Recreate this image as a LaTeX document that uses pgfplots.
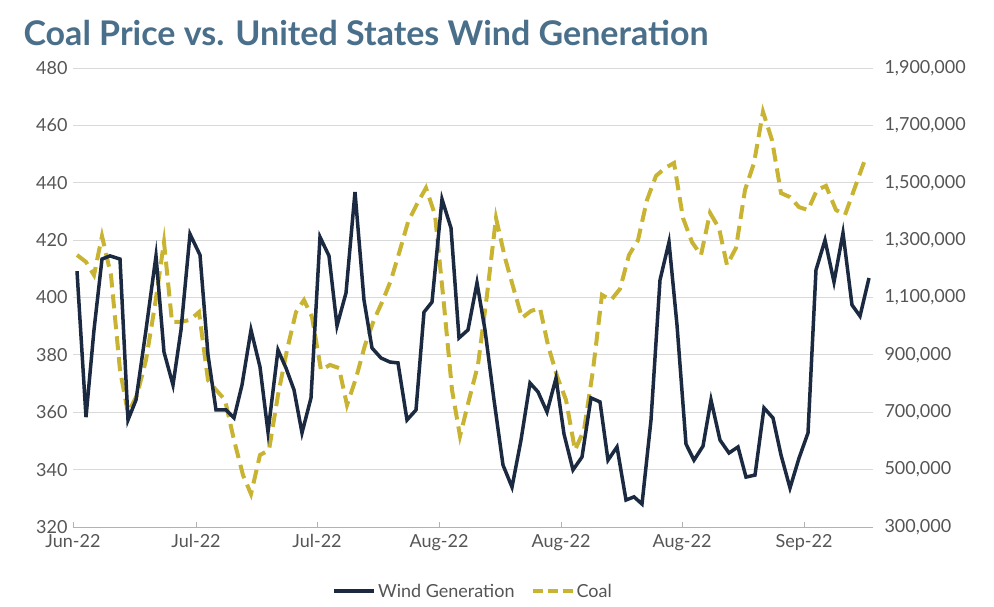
\documentclass[border=0pt]{standalone}
\usepackage{pgfplots}
\pgfplotsset{compat=1.18}
\usepackage{fontspec}
\setmainfont{Lato}
\definecolor{navy}{HTML}{1B2A41}
\definecolor{gold}{HTML}{C8B432}
\definecolor{tgray}{HTML}{555555}
\definecolor{ttl}{HTML}{4A6F8A}
\begin{document}
\begin{tikzpicture}
\path[use as bounding box] (-73pt,-80pt) rectangle (921pt,527pt);
\pgfplotsset{every axis/.style={scale only axis, width=800pt, height=459pt,
  xmin=73, xmax=873, xtick={73,196,317,439,561,682,804},
  tick label style={font=\fontsize{18}{18}\selectfont, text=tgray},
  /pgf/number format/assume math mode=true, major tick length=0pt}}
\begin{axis}[at={(0,0)}, anchor=south west,
  ymin=320, ymax=480, ytick={320,340,...,480},
  xticklabels={Jun-22,Jul-22,Jul-22,Aug-22,Aug-22,Aug-22,Sep-22},
  ymajorgrids, grid style={gray!30, line width=0.8pt},
  axis line style={draw=none}, axis x line*=bottom, x axis line style={draw=gray!60, line width=0.8pt},
  xtick style={draw=gray!60}, major tick length=5pt, ytick style={draw=none},
  xticklabel style={yshift=-4pt}, yticklabel style={xshift=-2pt}]
\addplot[draw=gold, line width=4pt, dash pattern=on 14pt off 7pt] coordinates {
(77,414.8)(86,412.4)(94,407.8)(102,421.4)(111,407.8)(120,374.7)(128,359.7)(137,366.0)(146,378.2)(155,397.4)(164,419.3)(172,391.5)(181,391.5)(190,392.2)(199,394.9)(208,371.2)(216,367.8)(225,364.3)(234,350.3)(243,338.1)(251,331.5)(260,345.1)(269,346.8)(278,366.0)(287,381.7)(296,394.9)(304,399.1)(312,393.2)(321,374.7)(330,376.5)(339,375.4)(347,362.5)(356,371.9)(365,383.4)(374,392.2)(383,399.1)(391,406.1)(400,416.6)(408,426.3)(417,432.6)(426,438.2)(435,428.8)(444,397.4)(452,367.8)(460,351.7)(469,364.3)(478,376.5)(487,400.9)(496,427.7)(505,413.8)(514,402.6)(522,392.9)(531,395.3)(540,396.3)(548,383.4)(557,372.6)(566,364.3)(575,346.8)(584,353.8)(593,374.7)(602,400.9)(611,399.1)(620,403.0)(629,414.8)(638,420.0)(647,434.0)(656,442.4)(665,445.1)(674,446.9)(683,427.7)(692,419.3)(701,414.8)(710,429.5)(719,424.2)(727,411.3)(736,417.3)(745,437.5)(754,446.9)(763,464.7)(772,454.9)(781,436.4)(790,435.0)(799,431.5)(808,430.5)(817,437.5)(826,438.9)(836,430.5)(845,428.8)(854,437.5)(866,449.0)};
\end{axis}
\begin{axis}[at={(0,0)}, anchor=south west, axis y line*=right, axis x line=none,
  ymin=300000, ymax=1900000, ytick={300000,500000,...,1900000},
  scaled y ticks=false, yticklabel style={/pgf/number format/fixed, /pgf/number format/1000 sep={,}, xshift=8pt},
  y axis line style={draw=none},
  legend style={at={(0.5,-0.115)}, anchor=north, draw=none, legend columns=2, font=\fontsize{18}{18}\selectfont, text=tgray, /tikz/every even column/.append style={column sep=14pt}},
  legend image code/.code={\draw[#1] (0pt,0pt) -- (40pt,0pt);}]
\addlegendimage{navy, line width=4pt}\addlegendentry{Wind Generation}
\addlegendimage{draw=gold, line width=4pt, dash pattern=on 10pt off 5pt}\addlegendentry{Coal}
\addplot[navy, line width=3.5pt] coordinates {
(77,1192000)(86,683000)(94,987000)(102,1234000)(110,1245000)(120,1234000)(128,673000)(136,743000)(146,987000)(156,1245000)(164,910000)(173,795000)(181,987000)(190,1321000)(200,1248000)(208,900000)(216,708000)(226,708000)(234,680000)(242,795000)(251,987000)(260,858000)(268,631000)(278,917000)(286,854000)(294,778000)(302,628000)(311,750000)(320,1311000)(329,1245000)(337,1001000)(346,1116000)(355,1468000)(364,1091000)(372,924000)(381,889000)(390,875000)(398,872000)(407,673000)(416,708000)(424,1049000)(432,1084000)(442,1443000)(451,1342000)(459,959000)(468,987000)(477,1151000)(485,987000)(494,743000)(503,516000)(512,439000)(521,603000)(530,802000)(538,771000)(547,701000)(556,819000)(564,624000)(573,499000)(582,544000)(591,750000)(600,736000)(608,533000)(617,579000)(626,394000)(634,405000)(642,380000)(651,673000)(660,1161000)(669,1293000)(677,1004000)(686,589000)(694,533000)(703,582000)(711,743000)(720,603000)(729,558000)(738,579000)(746,474000)(755,481000)(764,715000)(773,680000)(781,551000)(790,436000)(799,540000)(808,628000)(816,1196000)(825,1300000)(834,1154000)(843,1325000)(852,1074000)(860,1035000)(869,1168000)};
\end{axis}
\node[anchor=west, font=\fontsize{34}{34}\selectfont\bfseries, text=ttl] at (-53pt,494pt) {Coal Price vs. United States Wind Generation};
\end{tikzpicture}
\end{document}
